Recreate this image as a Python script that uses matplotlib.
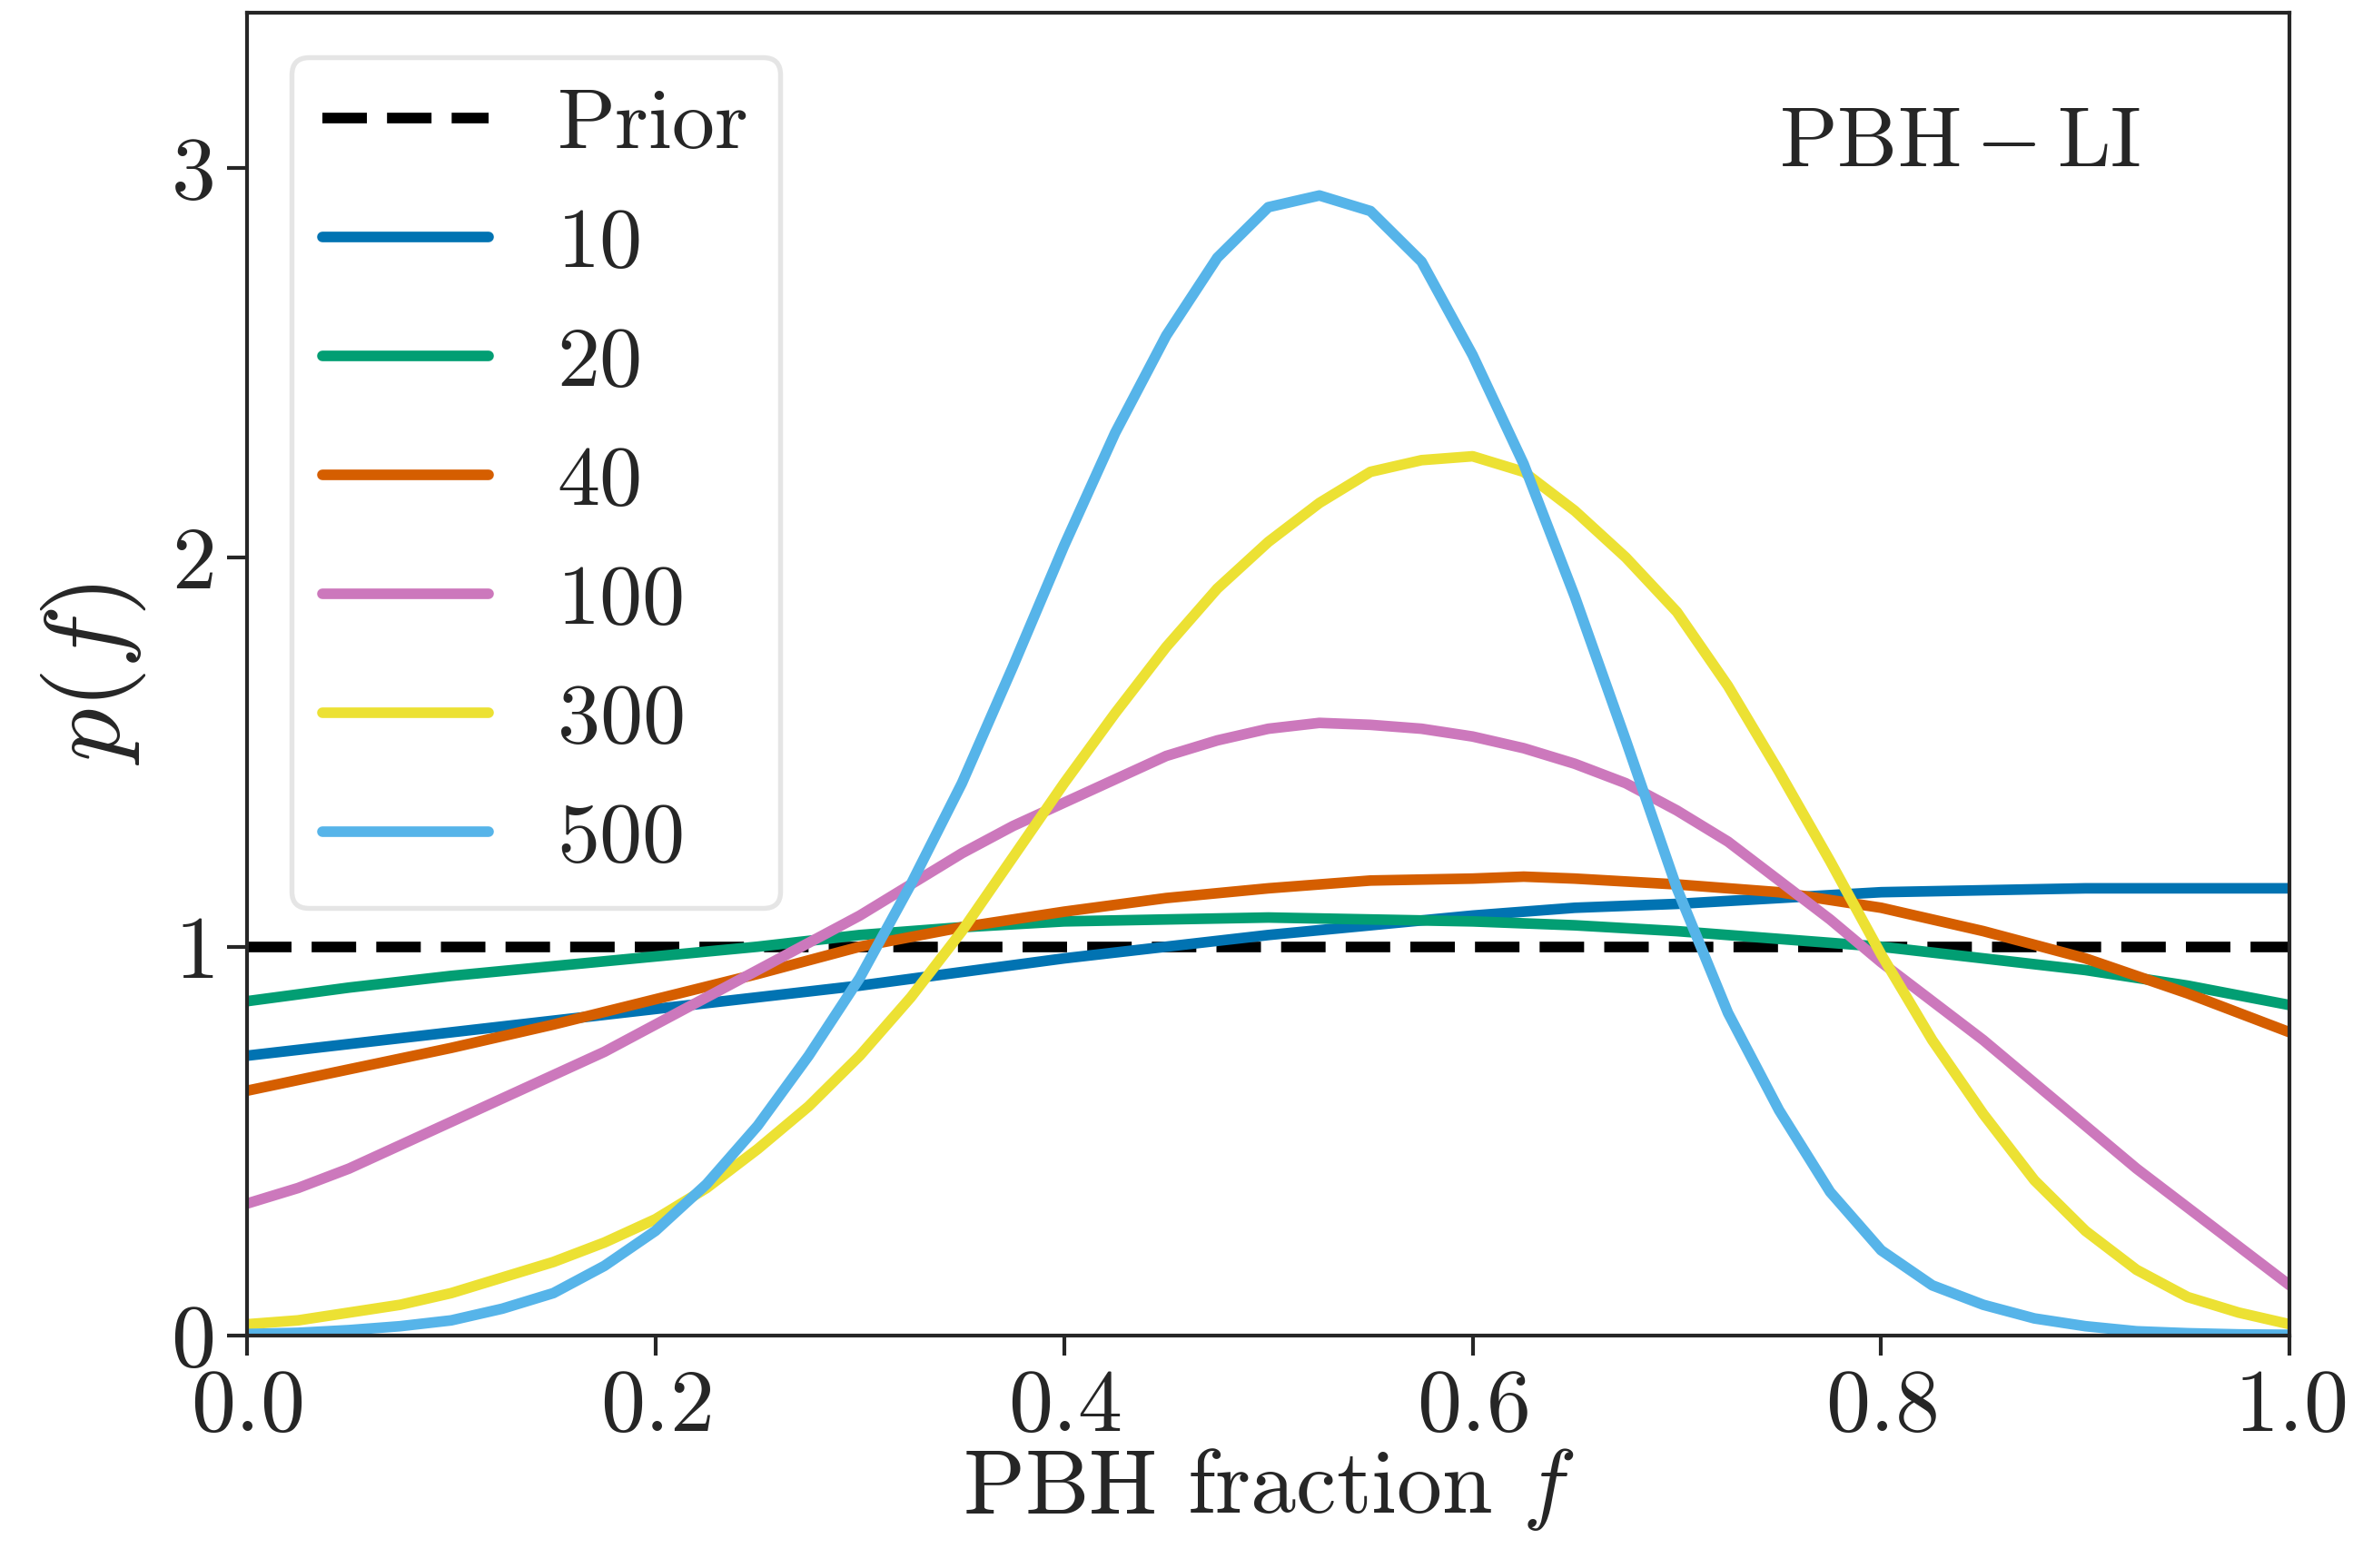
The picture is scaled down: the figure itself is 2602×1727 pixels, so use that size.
import numpy as np
import matplotlib
matplotlib.use("Agg")
import matplotlib.pyplot as plt

# style close to seaborn "ticks" with computer modern fonts
plt.rcParams['font.family'] = 'serif'
plt.rcParams['font.serif'] = ['cmr10']
plt.rcParams['mathtext.fontset'] = 'cm'
plt.rcParams['axes.formatter.use_mathtext'] = True
plt.rcParams['axes.unicode_minus'] = False
plt.rcParams['text.color'] = '#262626'
plt.rcParams['axes.labelcolor'] = '#262626'
plt.rcParams['xtick.color'] = '#262626'
plt.rcParams['ytick.color'] = '#262626'
plt.rcParams['axes.edgecolor'] = '#262626'

# data
# broad posteriors (few events)
f_coarse = [0.0, 0.05, 0.1, 0.15, 0.2, 0.25, 0.3, 0.35, 0.4, 0.45, 0.5, 0.55,
            0.6, 0.625, 0.65, 0.7, 0.75, 0.8, 0.85, 0.9, 0.95, 1.0]
p_10 = [0.72, 0.75, 0.78, 0.81, 0.84, 0.87, 0.90, 0.935, 0.97, 1.00, 1.03, 1.055,
        1.08, 1.09, 1.10, 1.11, 1.125, 1.14, 1.145, 1.15, 1.15, 1.15]
p_20 = [0.86, 0.895, 0.925, 0.95, 0.975, 1.0, 1.03, 1.05, 1.065, 1.07, 1.075, 1.07,
        1.065, 1.06, 1.055, 1.04, 1.02, 1.0, 0.97, 0.94, 0.9, 0.85]
p_40 = [0.63, 0.685, 0.74, 0.80, 0.865, 0.93, 1.0, 1.05, 1.09, 1.125, 1.15, 1.17,
        1.175, 1.18, 1.175, 1.16, 1.14, 1.10, 1.04, 0.97, 0.88, 0.78]

# narrower posteriors (many events)
f_fine = [0.0, 0.025, 0.05, 0.075, 0.1, 0.125, 0.15, 0.175, 0.2, 0.225, 0.25,
          0.275, 0.3, 0.325, 0.35, 0.375, 0.4, 0.425, 0.45, 0.475, 0.5, 0.525,
          0.55, 0.575, 0.6, 0.625, 0.65, 0.675, 0.7, 0.725, 0.75, 0.775, 0.8,
          0.825, 0.85, 0.875, 0.9, 0.925, 0.95, 0.975, 1.0]
p_100 = [0.34, 0.38, 0.43, 0.49, 0.55, 0.61, 0.67, 0.73, 0.80, 0.87, 0.94,
         1.01, 1.08, 1.16, 1.24, 1.31, 1.37, 1.43, 1.49, 1.53, 1.56, 1.575,
         1.57, 1.56, 1.54, 1.51, 1.47, 1.42, 1.35, 1.27, 1.17, 1.07, 0.96,
         0.86, 0.76, 0.65, 0.54, 0.43, 0.33, 0.23, 0.13]
p_300 = [0.03, 0.04, 0.06, 0.08, 0.11, 0.15, 0.19, 0.24, 0.30, 0.38, 0.48,
         0.59, 0.72, 0.87, 1.04, 1.23, 1.42, 1.60, 1.77, 1.92, 2.04, 2.14,
         2.22, 2.25, 2.26, 2.22, 2.12, 2.0, 1.86, 1.67, 1.45, 1.22, 0.98,
         0.76, 0.57, 0.40, 0.27, 0.17, 0.10, 0.06, 0.03]
p_500 = [0.005, 0.008, 0.015, 0.025, 0.04, 0.07, 0.11, 0.18, 0.27, 0.39, 0.54,
         0.72, 0.92, 1.16, 1.42, 1.72, 2.03, 2.32, 2.57, 2.77, 2.90, 2.93,
         2.89, 2.76, 2.52, 2.24, 1.90, 1.53, 1.15, 0.83, 0.58, 0.37, 0.22,
         0.13, 0.08, 0.045, 0.025, 0.012, 0.007, 0.004, 0.003]

labels = ['10', '20', '40', '100', '300', '500']
colors = ['#0173b2', '#029e73', '#d55e00', '#cc78bc', '#ece133', '#56b4e9']
xs = [f_coarse, f_coarse, f_coarse, f_fine, f_fine, f_fine]
curves = [p_10, p_20, p_40, p_100, p_300, p_500]

fig = plt.figure(figsize=(2602/300, 1727/300), dpi=300)
ax = fig.add_axes([0.1045, 0.148, 0.8645, 0.844])

ax.plot([0, 1], [1, 1], color='black', lw=2.8, dashes=(4.2, 1.9), label='Prior')
for x, y, c, lab in zip(xs, curves, colors, labels):
    ax.plot(x, y, color=c, lw=2.8, label=lab, solid_capstyle='round')

ax.set_xlim(0, 1)
ax.set_ylim(0, 3.4)
ax.set_xticks([0.0, 0.2, 0.4, 0.6, 0.8, 1.0])
ax.set_yticks([0, 1, 2, 3])
ax.tick_params(labelsize=23.5, length=5.3, width=1.0, direction='out')
for s in ax.spines.values():
    s.set_linewidth(1.0)

ax.set_xlabel(r'PBH fraction $f$', fontsize=24, labelpad=-0.5)
ax.set_ylabel(r'$p(f)$', fontsize=28, labelpad=6)

ax.text(0.927, 0.9, r'$\mathrm{PBH-LI}$', transform=ax.transAxes,
        ha='right', va='center', fontsize=22.5)

leg = ax.legend(loc='upper left', fontsize=22.6, handlelength=1.95,
                handletextpad=0.8, labelspacing=0.5, borderpad=0.36,
                borderaxespad=0.52, framealpha=1, fancybox=True)
leg.get_frame().set_edgecolor('#e5e5e5')
leg.get_frame().set_linewidth(1.3)

fig.savefig('out.png', dpi=300)
